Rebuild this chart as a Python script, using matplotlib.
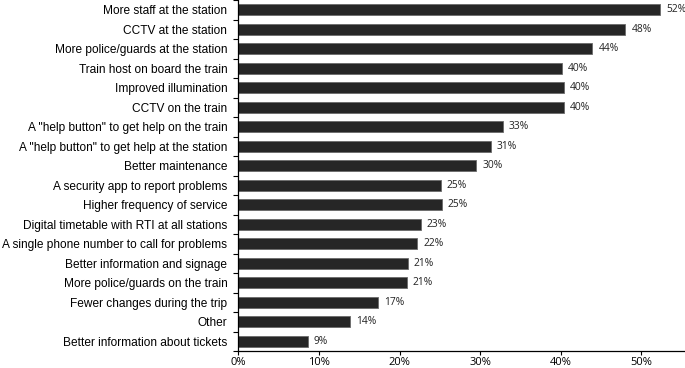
import numpy as np
import matplotlib
matplotlib.use("Agg")
import matplotlib.pyplot as plt
from matplotlib.ticker import FixedLocator, PercentFormatter

# data, top to bottom as in the chart
categories = [
    "More staff at the station",
    "CCTV at the station",
    "More police/guards at the station",
    "Train host on board the train",
    "Improved illumination",
    "CCTV on the train",
    'A "help button" to get help on the train',
    'A "help button" to get help at the station',
    "Better maintenance",
    "A security app to report problems",
    "Higher frequency of service",
    "Digital timetable with RTI at all stations",
    "A single phone number to call for problems",
    "Better information and signage",
    "More police/guards on the train",
    "Fewer changes during the trip",
    "Other",
    "Better information about tickets",
]
values = [52.3, 48.0, 43.9, 40.1, 40.4, 40.4, 32.8, 31.3, 29.5, 25.1, 25.2,
          22.6, 22.2, 21.0, 20.9, 17.3, 13.8, 8.6]
labels = ["52%", "48%", "44%", "40%", "40%", "40%", "33%", "31%", "30%", "25%",
          "25%", "23%", "22%", "21%", "21%", "17%", "14%", "9%"]

fig = plt.figure(figsize=(6.85, 3.68), dpi=100)
ax = fig.add_axes([0.348, 0.046, 0.652, 0.954])

y = np.arange(len(categories))[::-1]
ax.barh(y, values, height=0.58, color="#262626", edgecolor="#6a6a6a", linewidth=0.6)

for yi, v, lab in zip(y, values, labels):
    ax.text(v + 0.75, yi, lab, va="center", ha="left", fontsize=7.4,
            family="Open Sans", color="#222222")

ax.set_xlim(0, 55.4)
ax.set_ylim(-0.5, len(categories) - 0.5)
ax.xaxis.set_major_locator(FixedLocator([0, 10, 20, 30, 40, 50]))
ax.xaxis.set_major_formatter(PercentFormatter(decimals=0))

# category labels without ticks, ticks drawn at the boundaries
ax.set_yticks(y)
ax.set_yticklabels(categories, family="Liberation Sans", fontsize=8.6)
ax.tick_params(axis="y", length=0, pad=8)
ax.set_yticks(np.arange(-0.5, len(categories)), minor=True)
ax.tick_params(axis="y", which="minor", length=3.5, width=0.8, direction="out")
ax.tick_params(axis="x", length=3, width=0.8, direction="out", labelsize=8,
               pad=1.5)
for t in ax.get_xticklabels():
    t.set_family("Open Sans")

for s in ["top", "right"]:
    ax.spines[s].set_visible(False)
for s in ["left", "bottom"]:
    ax.spines[s].set_linewidth(0.9)

fig.savefig("out.png", dpi=100)
